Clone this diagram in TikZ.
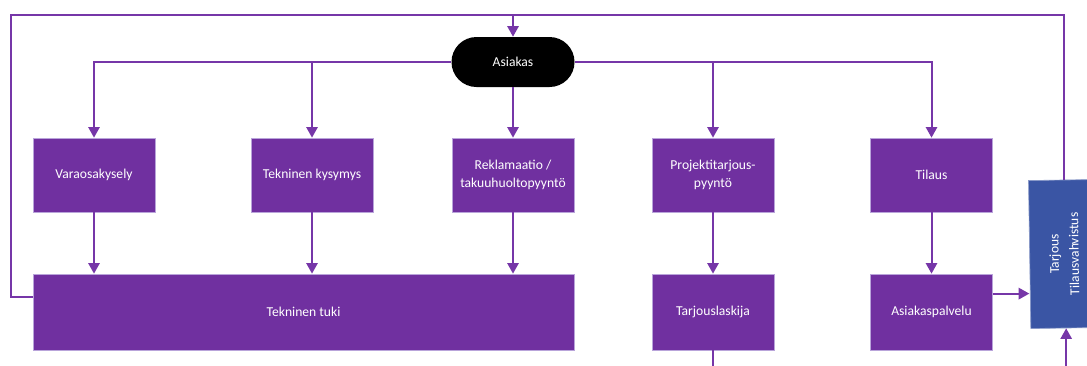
\documentclass[tikz,border=0pt]{standalone}
\usepackage{fontspec}
\usepackage{graphicx}
\setmainfont{Carlito}
\usetikzlibrary{arrows.meta,calc}

\definecolor{flowpurple}{HTML}{7030A0}
\definecolor{linepurple}{HTML}{7636A8}
\definecolor{edgelav}{HTML}{B9A4DA}
\definecolor{confblue}{HTML}{3A55A4}

\begin{document}
\begin{tikzpicture}[x=0.75pt,y=-0.75pt,
  lbl/.style={text=white, font=\fontsize{10.2}{14}\selectfont, align=center, inner sep=2pt},
  box/.style={lbl, rectangle, fill=flowpurple, draw=edgelav, line width=0.5pt,
              minimum width=91.5pt, minimum height=55.5pt},
  lowbox/.style={box, minimum height=57pt},
  term/.style={lbl, rectangle, fill=black, rounded corners=18.75pt,
               minimum width=92.25pt, minimum height=37.5pt},
  doc/.style={lbl, rectangle, fill=confblue, draw=confblue!60!white, line width=0.5pt,
              minimum width=53pt, minimum height=111pt, rotate=0.9},
  wire/.style={draw=linepurple, line width=1.5pt},
  flow/.style={wire, -{Triangle[width=8.5pt,length=8pt]}}]

\clip (0,0) rectangle (1087,365);
\useasboundingbox (0,0) rectangle (1087,365);

% customer
\node[term] (asiakas) at (513,62) {Asiakas};

% requests
\node[box] (vara)  at (94,175)    {Varaosakysely};
\node[box] (tekky) at (312,175)   {Tekninen kysymys};
\node[box] (rekl)  at (513,175)   {Reklamaatio /\\takuuhuoltopyyntö};
\node[box] (proj)  at (713,175)   {Projektitarjous-\\pyyntö};
\node[box] (tilaus) at (931.5,175) {Tilaus};

% handlers
\node[lowbox, minimum width=405.75pt] (tuki) at (303.5,312) {Tekninen tuki};
\node[lowbox] (tarj) at (713,312)   {Tarjouslaskija};
\node[lowbox] (asp)  at (931.5,312) {Asiakaspalvelu};

% offer / order confirmation
\node[doc] (blue) at (1065,254)
  {\rotatebox{90}{\begin{tabular}{@{}c@{}}Tarjous\\[1pt]Tilausvahvistus\end{tabular}}};

% fan-out from the customer
\draw[flow] (asiakas.west) -| (vara.north);
\draw[flow] (tekky.north |- asiakas.west) -- (tekky.north);
\draw[flow] (asiakas.south) -- (rekl.north);
\draw[flow] (asiakas.east) -| (tilaus.north);
\draw[flow] (proj.north |- asiakas.east) -- (proj.north);

% requests to handlers
\draw[flow] (vara.south)  -- (vara.south |- tuki.north);
\draw[flow] (tekky.south) -- (tekky.south |- tuki.north);
\draw[flow] (rekl.south)  -- (rekl.south |- tuki.north);
\draw[flow] (proj.south)  -- (tarj.north);
\draw[flow] (tilaus.south) -- (asp.north);

% customer service to confirmation
\coordinate (aspout) at ($(asp.north east)!0.26!(asp.south east)$);
\draw[flow] (aspout) -- (aspout -| blue.west);

% incoming from below
\coordinate (bluein) at (blue.south |- 0,372);
\draw[flow] (bluein) -- (blue.south);
\coordinate (tarjout) at (tarj.south |- 0,372);
\draw[wire] (tarj.south) -- (tarjout);

% feedback loop over the top
\coordinate (tukiout) at ($(tuki.north west)!0.3!(tuki.south west)$);
\coordinate (loopL) at (11,15);
\coordinate (loopR) at (blue.north |- loopL);
\draw[wire] (tukiout) -| (loopL) -- (loopR) -- (blue.north);
\draw[flow] (asiakas.north |- loopL) -- (asiakas.north);

\end{tikzpicture}
\end{document}
